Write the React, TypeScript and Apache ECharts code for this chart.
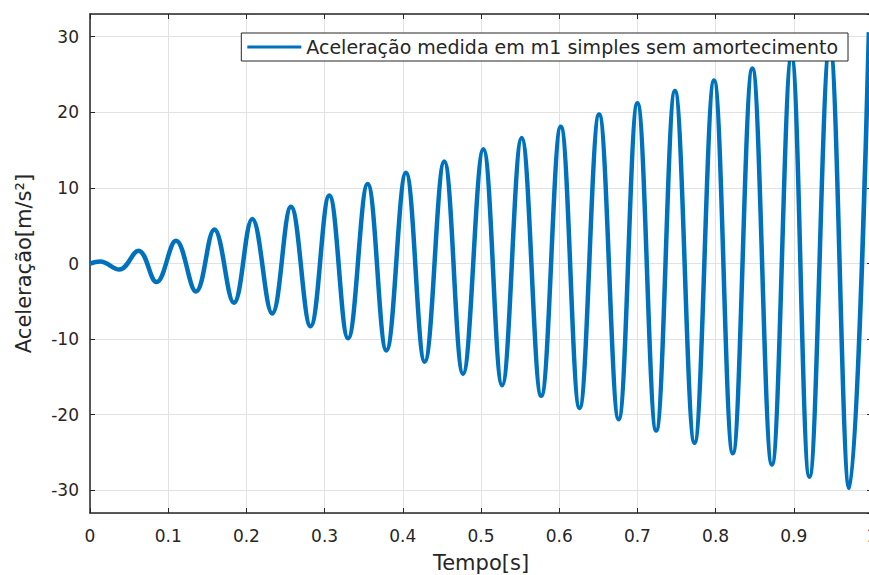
import { useEffect, useRef } from 'react';
import * as echarts from 'echarts';

// Extrema of the measured acceleration signal (time in s, acceleration in m/s²)
const timeS = [
  0, 0.013, 0.0375, 0.062, 0.085, 0.11, 0.1355, 0.159, 0.184, 0.2075,
  0.233, 0.257, 0.282, 0.306, 0.33, 0.355, 0.379, 0.404, 0.428, 0.453,
  0.477, 0.503, 0.527, 0.552, 0.577, 0.602, 0.626, 0.651, 0.676, 0.7,
  0.724, 0.748, 0.773, 0.798, 0.822, 0.847, 0.872, 0.897, 0.92, 0.946,
  0.971, 0.996,
];
const accel = [
  0, 0.25, -0.8, 1.7, -2.45, 3.0, -3.7, 4.5, -5.2, 5.9,
  -6.6, 7.5, -8.3, 9.0, -9.9, 10.5, -11.5, 12.0, -13.0, 13.5,
  -14.6, 15.1, -16.1, 16.6, -17.5, 18.1, -19.1, 19.7, -20.6, 21.2,
  -22.1, 22.8, -23.7, 24.2, -25.1, 25.8, -26.6, 27.3, -28.2, 28.8,
  -29.7, 30.6,
];

const seriesName = 'Aceleração medida em m1 simples sem amortecimento';
const xTitle = 'Tempo[s]';
const yTitle = 'Aceleração[m/s²]';

const FONT = 'DejaVu Sans';
const INK = '#262626';
const GRID = '#e2e2e2';
const LINE = '#0072BD';

export default function App() {
  const ref = useRef<HTMLDivElement>(null);

  useEffect(() => {
    if (!ref.current) return;
    const chart = echarts.init(ref.current, undefined, { renderer: 'svg' });

    const axisLine = { show: true, onZero: false, lineStyle: { color: INK, width: 1.5 } };
    const axisTick = { show: true, inside: true, length: 5, lineStyle: { color: INK, width: 1 } };

    chart.setOption({
      animation: false,
      backgroundColor: '#ffffff',
      textStyle: { fontFamily: FONT },
      grid: {
        left: 90,
        top: 14,
        width: 782,
        height: 499,
        containLabel: false,
        outerBoundsMode: 'none',
      },
      legend: {
        right: 21,
        top: 33,
        icon: 'rect',
        itemWidth: 54,
        itemHeight: 3,
        padding: [3, 10, 3, 6],
        borderColor: INK,
        borderWidth: 1,
        borderRadius: 0,
        backgroundColor: '#ffffff',
        textStyle: { fontFamily: FONT, fontSize: 19, color: INK, lineHeight: 22 },
        data: [seriesName],
      },
      xAxis: [
        {
          type: 'value',
          min: 0,
          max: 1,
          interval: 0.1,
          position: 'bottom',
          name: xTitle,
          nameLocation: 'middle',
          nameGap: 39,
          nameTextStyle: { fontFamily: FONT, fontSize: 21, color: INK, lineHeight: 22 },
          axisLine,
          axisTick,
          axisLabel: {
            fontFamily: FONT,
            fontSize: 17,
            color: INK,
            margin: 14,
            formatter: (v: number) => String(Math.round(v * 10) / 10),
          },
          splitLine: { show: true, lineStyle: { color: GRID, width: 1 } },
        },
        {
          type: 'value',
          min: 0,
          max: 1,
          interval: 0.1,
          position: 'top',
          axisLine,
          axisTick,
          axisLabel: { show: false },
          splitLine: { show: false },
        },
      ],
      yAxis: [
        {
          type: 'value',
          min: -33,
          max: 33,
          position: 'left',
          name: yTitle,
          nameLocation: 'middle',
          nameGap: 56,
          nameRotate: 90,
          nameTextStyle: { fontFamily: FONT, fontSize: 21, color: INK },
          axisLine,
          axisTick,
          axisLabel: {
            fontFamily: FONT,
            fontSize: 17,
            color: INK,
            margin: 11,
            showMinLabel: false,
            showMaxLabel: false,
            formatter: (v: number) => (Math.abs(v % 10) < 1e-9 ? String(v) : ''),
          },
          splitLine: { show: true, lineStyle: { color: GRID, width: 1 } },
        },
        {
          type: 'value',
          min: -33,
          max: 33,
          position: 'right',
          axisLine,
          axisTick,
          axisLabel: { show: false },
          splitLine: { show: false },
        },
      ],
      series: [
        {
          type: 'line',
          name: seriesName,
          xAxisIndex: 0,
          yAxisIndex: 0,
          data: timeS.map((t, i) => [t, accel[i]]),
          smooth: 0.4,
          symbol: 'none',
          showSymbol: false,
          lineStyle: { color: LINE, width: 4.5 },
          itemStyle: { color: LINE },
        },
      ],
    });

    return () => chart.dispose();
  }, []);

  return (
    <div
      ref={ref}
      style={{ position: 'fixed', left: 0, top: 0, width: 869, height: 575, background: '#fff' }}
    />
  );
}
